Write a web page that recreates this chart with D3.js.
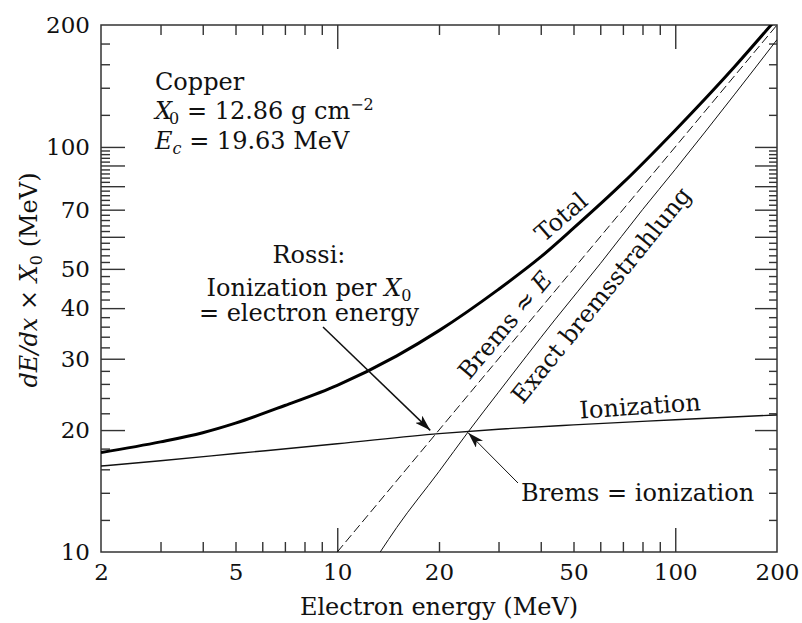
<!DOCTYPE html>
<meta charset="utf-8">
<script src="https://d3js.org/d3.v7.min.js"></script>
<style>
body { margin: 0; background: #fff; }
text { font-family: "DejaVu Serif", serif; fill: #111; }
.tick line { stroke: #333; stroke-width: 1.4px; }
.tick text { font-size: 23px; }
</style>
<body>
<div id="chart"></div>
</body>
<script>

// set the dimensions and margins of the graph
const W = 802, H = 623;
const margin = {top: 25, right: 25, bottom: 71, left: 101},
	width = W - margin.left - margin.right,
	height = H - margin.top - margin.bottom;

// values (energy in MeV, dE/dx * X0 in MeV)
const ionE   = [2, 3, 5, 10, 20, 30, 50, 100, 200];
const ionY   = [16.3, 16.8, 17.5, 18.5, 19.6, 20.1, 20.6, 21.2, 21.8];
const bremE  = [13.4, 15, 20, 24.4, 30, 44, 60, 80, 100, 150, 200];
const bremY  = [10, 11.5, 15.8, 19.8, 24.8, 37.4, 51.5, 70, 88, 135, 184];
const totalE = [2, 3, 4, 5, 7, 10, 15, 20, 30, 40, 50, 70, 100, 150, 200];
const totalY = [17.6, 18.7, 19.7, 20.8, 23, 25.8, 30.5, 35.2, 44.5, 53.5, 63, 81.5, 110, 158, 208];
const rossiE = [10, 200];
const rossiY = [10, 200];

// ticks and labels
const xLabels = [2, 5, 10, 20, 50, 100, 200];
const xMajor = [10, 100];
const xMinor = [3, 4, 5, 6, 7, 8, 9, 20, 30, 40, 50, 60, 70, 80, 90];
const yLabels = [10, 20, 30, 40, 50, 70, 100, 200];
const yMajor = [20, 30, 40, 50, 60, 70, 80, 90, 100];
const yMinor = [12, 14, 16, 18, 22, 24, 26, 28, 32, 34, 36, 38, 42, 44, 46, 48,
	52, 54, 56, 58, 62, 64, 66, 68, 72, 74, 76, 78, 82, 84, 86, 88, 92, 94, 96, 98,
	120, 140, 160, 180];

const Ec = 19.63;           // critical energy
const bremsEqIon = [24.4, 19.8];

const svg = d3.select("#chart")
.append("svg")
	.attr("width", W)
	.attr("height", H)
.append("g")
	.attr("transform", `translate(${margin.left}, ${margin.top})`);

const x = d3.scaleLog().domain([2, 200]).range([0, width]);
const y = d3.scaleLog().domain([10, 200]).range([height, 0]);

svg.append("clipPath").attr("id", "clip")
	.append("rect").attr("width", width).attr("height", height);

// arrow head
svg.append("defs").append("marker")
	.attr("id", "head")
	.attr("viewBox", "0 0 16 10")
	.attr("refX", 16).attr("refY", 5)
	.attr("markerWidth", 16).attr("markerHeight", 10)
	.attr("markerUnits", "userSpaceOnUse")
	.attr("orient", "auto")
	.append("path")
	.attr("d", "M0,0L16,5L0,10L4,5Z")
	.style("fill", "#111");

// ticks, all pointing inwards
function ticks(axis, vals, len, tr) {
	const g = svg.append("g").attr("transform", tr)
		.call(axis.tickValues(vals).tickSize(-len).tickFormat(""));
	g.select(".domain").remove();
	return g;
}
ticks(d3.axisBottom(x), xMajor, 24, `translate(0,${height})`);
ticks(d3.axisBottom(x), xMinor, 10, `translate(0,${height})`);
ticks(d3.axisTop(x), xMajor, 24, "translate(0,0)");
ticks(d3.axisTop(x), xMinor, 10, "translate(0,0)");
ticks(d3.axisLeft(y), yMajor, 24, "translate(0,0)");
ticks(d3.axisLeft(y), yMinor, 9, "translate(0,0)");
ticks(d3.axisRight(y), yMajor, 22, `translate(${width},0)`);
ticks(d3.axisRight(y), yMinor, 8, `translate(${width},0)`);

// labels
const xl = svg.append("g").attr("transform", `translate(0,${height})`)
	.call(d3.axisBottom(x).tickValues(xLabels).tickSize(0).tickPadding(12).tickFormat(d3.format("d")));
xl.select(".domain").remove();
xl.selectAll("text").style("fill", "#111");
const yl = svg.append("g")
	.call(d3.axisLeft(y).tickValues(yLabels).tickSize(0).tickPadding(11).tickFormat(d3.format("d")));
yl.select(".domain").remove();
yl.selectAll("text").style("fill", "#111");

// frame
svg.append("rect")
	.attr("width", width).attr("height", height)
	.style("fill", "none").style("stroke", "#333").style("stroke-width", 1.5);

// curves
const line = d3.line()
	.x(d => x(d[0])).y(d => y(d[1]))
	.curve(d3.curveMonotoneX);
const curves = svg.append("g").attr("clip-path", "url(#clip)");

curves.append("path").datum(d3.zip(ionE, ionY))
	.attr("d", line)
	.style("fill", "none").style("stroke", "#111").style("stroke-width", 1.4);
curves.append("path").datum(d3.zip(rossiE, rossiY))
	.attr("d", line)
	.style("fill", "none").style("stroke", "#111").style("stroke-width", 1)
	.style("stroke-dasharray", "9,4");
curves.append("path").datum(d3.zip(bremE, bremY))
	.attr("d", line)
	.style("fill", "none").style("stroke", "#111").style("stroke-width", 1);
curves.append("path").datum(d3.zip(totalE, totalY))
	.attr("d", line)
	.style("fill", "none").style("stroke", "#000").style("stroke-width", 3);

// annotation text
const ann = svg.append("g").style("font-size", "24px");

ann.append("text").attr("x", 54).attr("y", 65).text("Copper");
let t = ann.append("text").attr("x", 54).attr("y", 94);
t.append("tspan").style("font-style", "italic").text("X");
t.append("tspan").attr("dy", 5).attr("dx", -3).style("font-size", "16px").text("0");
t.append("tspan").attr("dy", -5).text(" = 12.86 g cm");
t.append("tspan").attr("dy", -9).style("font-size", "16px").text("\u22122");
t = ann.append("text").attr("x", 54).attr("y", 124);
t.append("tspan").style("font-style", "italic").text("E");
t.append("tspan").attr("dy", 5).style("font-size", "16px").style("font-style", "italic").text("c");
t.append("tspan").attr("dy", -5).text(" = 19.63 MeV");

ann.append("text").attr("x", 208).attr("y", 238).attr("text-anchor", "middle").text("Rossi:");
t = ann.append("text").attr("x", 208).attr("y", 271).attr("text-anchor", "middle");
t.append("tspan").text("Ionization per ");
t.append("tspan").style("font-style", "italic").text("X");
t.append("tspan").attr("dy", 5).style("font-size", "16px").text("0");
ann.append("text").attr("x", 208).attr("y", 296).attr("text-anchor", "middle").text("= electron energy");

ann.append("text").attr("x", 420).attr("y", 476).text("Brems = ionization");

function rotLabel(cx, cy, ang) {
	return ann.append("text")
		.attr("text-anchor", "middle")
		.attr("dy", "0.35em")
		.attr("transform", `translate(${cx},${cy}) rotate(${ang})`);
}
rotLabel(460, 192, -41).text("Total");
t = rotLabel(404, 300, -50);
t.append("tspan").text("Brems \u2248 ");
t.append("tspan").style("font-style", "italic").text("E");
rotLabel(500, 270, -51).text("Exact bremsstrahlung");
rotLabel(539, 381, -4).text("Ionization");

// arrows
const arrows = svg.append("g");
arrows.append("line")
	.attr("x1", 222).attr("y1", 302)
	.attr("x2", x(Ec) - 6).attr("y2", y(Ec) - 3)
	.style("stroke", "#111").style("stroke-width", 1.5)
	.attr("marker-end", "url(#head)");
arrows.append("line")
	.attr("x1", 417).attr("y1", 458)
	.attr("x2", x(bremsEqIon[0])).attr("y2", y(bremsEqIon[1]) + 1)
	.style("stroke", "#111").style("stroke-width", 1)
	.attr("marker-end", "url(#head)");

// axis titles
svg.append("text")
	.attr("x", 338)
	.attr("y", height + 63)
	.attr("text-anchor", "middle")
	.style("font-size", "24px")
	.text("Electron energy (MeV)");

t = svg.append("text")
	.attr("transform", `translate(${-64},${255}) rotate(-90)`)
	.attr("text-anchor", "middle")
	.style("font-size", "24px");
t.append("tspan").style("font-style", "italic").text("dE/dx");
t.append("tspan").text(" \u00d7 ");
t.append("tspan").style("font-style", "italic").text("X");
t.append("tspan").attr("dy", 5).style("font-size", "16px").text("0");
t.append("tspan").attr("dy", -5).text(" (MeV)");

</script>
